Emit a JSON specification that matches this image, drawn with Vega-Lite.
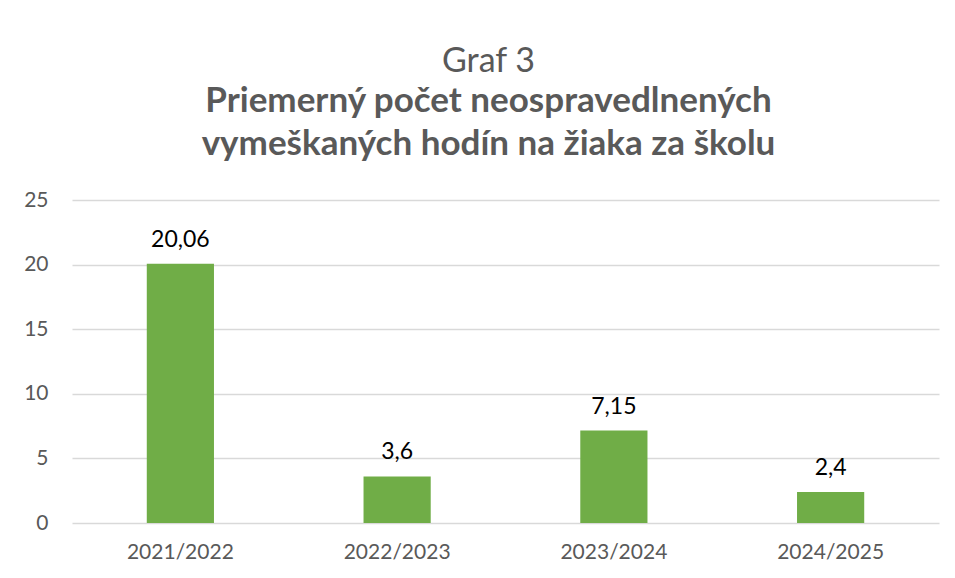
{
  "$schema": "https://vega.github.io/schema/vega-lite/v6.json",
  "width": 867,
  "height": 323,
  "autosize": {"type": "none"},
  "padding": {"left": 72, "top": 200, "right": 16, "bottom": 55},
  "background": "white",
  "config": {
    "font": "Lato",
    "view": {"stroke": null},
    "locale": {"number": {"decimal": ",", "thousands": " ", "grouping": [3], "currency": ["", " €"]}}
  },
  "title": {
    "text": "Graf 3",
    "subtitle": ["Priemerný počet neospravedlnených", "vymeškaných hodín na žiaka za školu"],
    "anchor": "middle",
    "dx": -17,
    "font": "Lato",
    "fontSize": 34,
    "fontWeight": "normal",
    "color": "#595959",
    "subtitleFont": "Lato",
    "subtitleFontSize": 35,
    "subtitleFontWeight": "bold",
    "subtitleColor": "#595959",
    "subtitleLineHeight": 43,
    "subtitlePadding": 5,
    "offset": 27
  },
  "data": {
    "values": [
      {"rok": "2021/2022", "hodnota": 20.06},
      {"rok": "2022/2023", "hodnota": 3.6},
      {"rok": "2023/2024", "hodnota": 7.15},
      {"rok": "2024/2025", "hodnota": 2.4}
    ]
  },
  "encoding": {
    "x": {
      "field": "rok",
      "type": "nominal",
      "sort": null,
      "scale": {"paddingInner": 0.69, "paddingOuter": 0.345},
      "axis": {
        "title": null,
        "labelAngle": 0,
        "labelFontSize": 21,
        "labelColor": "#595959",
        "labelPadding": 18,
        "ticks": false,
        "domain": false,
        "grid": false
      }
    },
    "y": {
      "field": "hodnota",
      "type": "quantitative",
      "scale": {"domain": [0, 25]},
      "axis": {
        "title": null,
        "values": [0, 5, 10, 15, 20, 25],
        "labelFontSize": 21,
        "labelColor": "#595959",
        "labelPadding": 24,
        "ticks": false,
        "domain": false,
        "grid": true,
        "gridColor": "#d9d9d9",
        "gridWidth": 1.3
      }
    }
  },
  "layer": [
    {"mark": {"type": "bar", "color": "#70ad47"}},
    {
      "mark": {"type": "text", "baseline": "alphabetic", "dy": -17, "fontSize": 23, "color": "#000000"},
      "encoding": {"text": {"field": "hodnota", "type": "quantitative", "format": "~g"}}
    }
  ]
}
